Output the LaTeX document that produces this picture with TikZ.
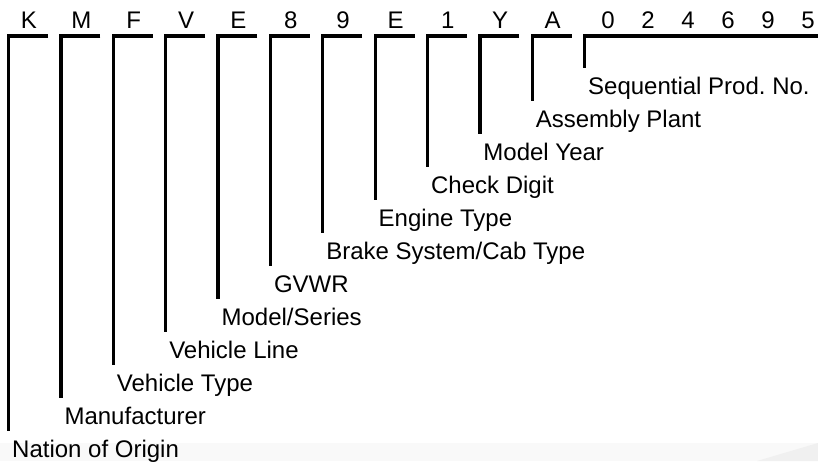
\documentclass[tikz,border=0pt]{standalone}
\usepackage{fontspec}
\setmainfont{Liberation Sans}
\frenchspacing
\usetikzlibrary{positioning}
\tikzset{vinchar/.style = {font=\fontsize{24}{28}\selectfont, inner sep=0pt, anchor=base}}
\tikzset{vinlabel/.style = {font=\fontsize{24}{28}\selectfont, inner sep=0pt, text height=17pt, text depth=5pt, anchor=north west}}
\tikzset{bracket/.style = {line width=3.3pt, line join=miter}}

\begin{document}
\begin{tikzpicture}[x=1pt, y=-1pt]
\useasboundingbox (0,0) rectangle (818,461);
% faint scan band
\fill[gray!5] (0,443) rectangle (818,461);
\fill[gray!12] (757,461) -- (818,443) -- (818,461) -- cycle;
% VIN characters
\foreach \c [count=\i from 0] in {K,M,F,V,E,8,9,E,1,Y,A}{
  \pgfmathsetmacro\xl{7+52.36*\i}
  \node[vinchar] (c\i) at (\xl+22,28) {\c};
  \coordinate (b\i) at (\xl+41,36);
}
\foreach \d [count=\j from 0] in {0,2,4,6,9,5}
  \node[vinchar] (d\j) at (608+40*\j,28) {\d};
\coordinate (b11) at (818,36);
% labels and brackets
\foreach \t [count=\i from 0] in {Nation of Origin, Manufacturer, Vehicle Type, Vehicle Line,
    Model/Series, GVWR, Brake System/Cab Type, Engine Type, Check Digit, Model Year,
    Assembly Plant, Sequential Prod. No.}{
  \pgfmathsetmacro\xl{7+52.36*\i}
  \pgfmathsetmacro\yl{440.5-33*\i}
  \node[vinlabel] (l\i) at (\xl+5,\yl) {\t};
  \draw[bracket] (b\i) -| ([xshift=-3.35pt, yshift=10pt]l\i.north west);
}
\end{tikzpicture}
\end{document}
